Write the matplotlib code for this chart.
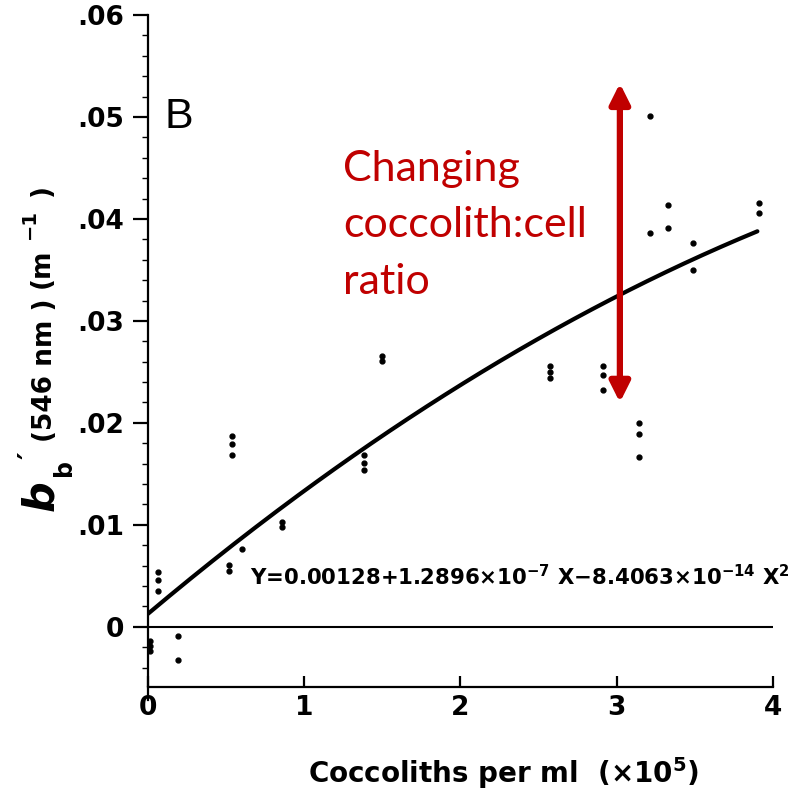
import matplotlib

matplotlib.use("Agg")
import matplotlib.pyplot as plt
import numpy as np
from matplotlib.ticker import FixedLocator, FixedFormatter, MultipleLocator

# coccoliths per ml (x1e5) and backscatter b_b' (m^-1)
cocco_x = [0.013, 0.013, 0.013, 0.064, 0.064, 0.064, 0.19, 0.19,
           0.52, 0.52, 0.60, 0.54, 0.54, 0.54, 0.86, 0.86,
           1.38, 1.38, 1.38, 1.50, 1.50,
           2.57, 2.57, 2.57, 2.91, 2.91, 2.91,
           3.14, 3.14, 3.14, 3.21, 3.21, 3.33, 3.33,
           3.49, 3.49, 3.91, 3.91]
bb_y = [-0.0014, -0.0019, -0.0024, 0.0054, 0.0046, 0.0035, -0.0009, -0.0033,
        0.0061, 0.0055, 0.0076, 0.0187, 0.0179, 0.0169, 0.0103, 0.0098,
        0.0169, 0.0161, 0.0154, 0.0266, 0.0261,
        0.0256, 0.0250, 0.0244, 0.0256, 0.0247, 0.0232,
        0.0200, 0.0189, 0.0167, 0.0501, 0.0386, 0.0414, 0.0391,
        0.0376, 0.0350, 0.0416, 0.0406]

# regression from the figure: Y = a + b X + c X^2 (X in coccoliths/ml)
fit_a, fit_b, fit_c = 0.00128, 1.2896e-7, -8.4063e-14
fit_x_max = 3.9

y_ticks = [0.0, 0.01, 0.02, 0.03, 0.04, 0.05, 0.06]
y_tick_labels = ["0", ".01", ".02", ".03", ".04", ".05", ".06"]
x_ticks = [0, 1, 2, 3, 4]
x_tick_labels = ["0", "1", "2", "3", "4"]

arrow_x = 3.02
arrow_y0, arrow_y1 = 0.0220, 0.0533
red = "#C00000"
lab_font = "DejaVu Sans"

plt.rcParams["mathtext.fontset"] = "custom"
plt.rcParams["mathtext.rm"] = "DejaVu Sans:bold"
plt.rcParams["mathtext.default"] = "rm"

W, H = 804, 791
fig = plt.figure(figsize=(W / 100, H / 100), dpi=100)
ax = fig.add_axes([148 / W, 1 - 687 / H, (773 - 148) / W, (687 - 15) / H])

ax.set_xlim(0, 4)
ax.set_ylim(-0.0059, 0.06)

for side in ("top", "right"):
    ax.spines[side].set_visible(False)
for side in ("left", "bottom"):
    ax.spines[side].set_linewidth(1.6)
ax.spines["left"].set_bounds(-0.0072, 0.06)

ax.axhline(0, color="black", lw=1.5)

xs = np.linspace(0, fit_x_max, 200)
X = xs * 1e5
ax.plot(xs, fit_a + fit_b * X + fit_c * X ** 2, color="black", lw=3.0,
        solid_capstyle="round")

ax.plot(cocco_x, bb_y, "o", color="black", ms=3.5, clip_on=False)

ax.annotate("", xy=(arrow_x, arrow_y1), xytext=(arrow_x, arrow_y0),
            arrowprops=dict(arrowstyle="<|-|>", color=red, lw=4.5,
                            mutation_scale=30, shrinkA=0, shrinkB=0))

ax.text(1.25, 0.0468, "Changing\ncoccolith:cell\nratio", color=red,
        fontsize=31, family="Lato", va="top", ha="left", linespacing=1.6)

ax.text(0.105, 0.0500, "B", fontsize=31, family="Liberation Sans",
        va="center", ha="left")

ax.text(0.65, 0.0049,
        "Y=0.00128+1.2896\u00d710$^{-7}$ X\u22128.4063\u00d710$^{-14}$ X$^{2}$",
        fontsize=15.3, family=lab_font, fontweight="bold",
        va="center", ha="left")

ax.yaxis.set_major_locator(FixedLocator(y_ticks))
ax.yaxis.set_major_formatter(FixedFormatter(y_tick_labels))
ax.yaxis.set_minor_locator(MultipleLocator(0.002))
ax.xaxis.set_major_locator(FixedLocator(x_ticks))
ax.xaxis.set_major_formatter(FixedFormatter(x_tick_labels))

ax.tick_params(axis="y", which="major", direction="out", length=11, width=1.6,
               pad=6, labelsize=19)
ax.tick_params(axis="y", which="minor", direction="out", length=4, width=1.0)
ax.tick_params(axis="x", which="major", direction="in", length=8, width=1.6,
               pad=6, labelsize=19)
for lab in ax.get_xticklabels() + ax.get_yticklabels():
    lab.set_family(lab_font)
    lab.set_fontweight("bold")


# axis labels built from pieces (big italic b, sub b, prime, units)
def px(x, y):
    return x / W, 1 - y / H


def vtext(x, y, s, size, **kw):
    fig.text(*px(x, y), s, rotation=90, fontsize=size, fontweight="bold",
             ha="center", va="center", **{"family": lab_font, **kw})


vtext(41, 496, "b", 31, style="italic")
vtext(64, 468, "b", 17)
vtext(30, 455, "\u2032", 21)
vtext(45, 370, "(546 nm )", 19)
vtext(42, 268, "(m", 19)
vtext(29, 224, "\u22121", 14)
vtext(42, 190, ")", 19)

fig.text(*px(503, 773), r"Coccoliths per ml  ($\times$10$^{5}$)", fontsize=20,
         family=lab_font, fontweight="bold", ha="center", va="center")

fig.savefig("out.png", dpi=100)
